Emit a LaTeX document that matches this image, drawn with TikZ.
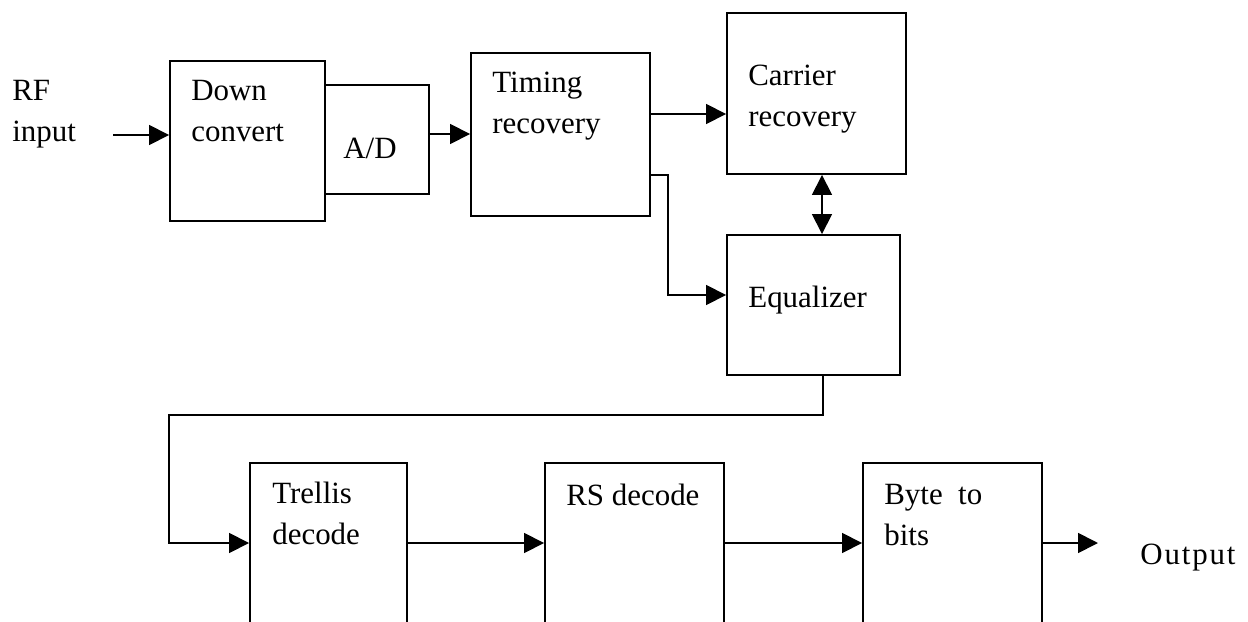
\documentclass[tikz,border=0pt]{standalone}
\usepackage{fontspec}
\setmainfont{Liberation Serif}
\usetikzlibrary{fit,calc,positioning,arrows.meta}

\begin{document}
\begin{tikzpicture}[x=0.02cm,y=-0.02cm,
        every fit/.style={rectangle,draw,inner sep=0pt,line width=1.1pt},
        txt/.style={anchor=base west,inner sep=0pt,align=left},
        arr/.style={-{Triangle[length=0.4cm,width=0.4cm]},line width=1pt},
        dbl/.style={{Triangle[length=0.4cm,width=0.4cm]}-{Triangle[length=0.4cm,width=0.4cm]},line width=1pt},
        font=\fontsize{17.6}{22.8}\selectfont]
        \useasboundingbox (0,0) rectangle (1248,622);
        \clip (0,0) rectangle (1248,622);

        \node[fit={(170,61) (325,221)}] (down) {};
        \node[fit={(325,85) (429,194)}] (ad) {};
        \node[fit={(471,53) (650,216)}] (timing) {};
        \node[fit={(727,13) (906,174)}] (carrier) {};
        \node[fit={(727,235) (900,375)}] (equal) {};
        \node[fit={(250,463) (407,660)}] (trellis) {};
        \node[fit={(545,463) (724,660)}] (rs) {};
        \node[fit={(863,463) (1042,660)}] (byte) {};

        % multi-line texts sit on the baseline of their last line
        \node[txt] (rf) at (12,141) {RF\\input};
        \node[txt] (downtxt) at (191,141) {Down\\convert};
        \node[txt] (adtxt) at (343,158) {A/D};
        \node[txt] (timingtxt) at (492,133) {Timing\\recovery};
        \node[txt] (carriertxt) at (748,126) {Carrier\\recovery};
        \node[txt] (equaltxt) at (748,307) {Equalizer};
        \node[txt] (trellistxt) at (272,544) {Trellis\\decode};
        \node[txt] (rstxt) at (566,505) {RS decode};
        \node[txt] (bytetxt) at (884,545) {Byte\ \ to\\bits};
        \node[txt] (out) at (1140,564) {\addfontfeature{LetterSpace=6}Output};

        \coordinate (rfin) at (113,135);
        \coordinate (outend) at (1098,543);

        \draw[arr] (rfin) -- (rfin -| down.west);
        \draw[arr] (ad.east |- 0,134) -- (timing.west |- 0,134);
        \draw[arr] (timing.east |- 0,114) -- (carrier.west |- 0,114);
        \draw[dbl] (carrier.south -| 822,0) -- (equal.north -| 822,0);
        \draw[arr] (timing.east |- 0,175) -| (668,295) -- (equal.west |- 0,295);
        \draw[arr] (equal.south -| 823,0) |- (169,415) |- (trellis.west |- 0,543);
        \draw[arr] (trellis.east |- 0,543) -- (rs.west |- 0,543);
        \draw[arr] (rs.east |- 0,543) -- (byte.west |- 0,543);
        \draw[arr] (byte.east |- outend) -- (outend);

    \end{tikzpicture}
\end{document}
